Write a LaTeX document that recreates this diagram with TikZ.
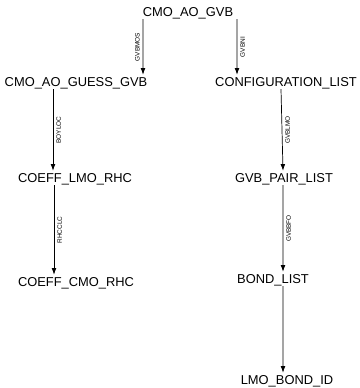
\documentclass[tikz,border=0pt]{standalone}
\usepackage{fontspec}
\setmainfont{Liberation Sans}
\usepackage{tikz}
\usetikzlibrary{arrows.meta, positioning, calc}

\begin{document}
\begin{tikzpicture}[
        unit/.style={inner xsep=0pt, inner ysep=0.07cm, text height=7.9pt, text depth=0pt, font=\fontsize{11}{12}\selectfont},
        call/.style={semithick, -{Latex[length=2mm, width=1.4mm]}},
        tag/.style={font=\fontsize{5.5}{6}\selectfont, rotate=90, inner sep=2.5pt}
    ]
        \useasboundingbox (0,0) rectangle (10.77,-11.64);

        % Routine names
        \node[unit] (gvb) at (5.64,-0.36) {CMO\_AO\_GVB};
        \node[unit] (guess) at (2.28,-2.46) {CMO\_AO\_GUESS\_GVB};
        \node[unit] (config) at (8.58,-2.46) {CONFIGURATION\_LIST};
        \node[unit] (lmorhc) at (2.25,-5.34) {COEFF\_LMO\_RHC};
        \node[unit] (cmorhc) at (2.28,-8.46) {COEFF\_CMO\_RHC};
        \node[unit] (pair) at (8.52,-5.34) {GVB\_PAIR\_LIST};
        \node[unit] (bond) at (8.19,-8.37) {BOND\_LIST};
        \node[unit] (bondid) at (8.61,-11.40) {LMO\_BOND\_ID};

        % Calls
        \draw[call] ([xshift=-1.35cm]gvb.south) -- ([xshift=2.01cm]guess.north)
            node[tag, midway, anchor=south] {GVBMOS};
        \draw[call] ([xshift=1.47cm]gvb.south) -- ([xshift=-1.47cm]config.north)
            node[tag, midway, anchor=north] {GVBNI};
        \draw[call] ([xshift=-0.69cm]guess.south) -- ([xshift=-0.66cm]lmorhc.north)
            node[tag, midway, anchor=north] {BOYLOC};
        \draw[call] ([xshift=-0.63cm]lmorhc.south) -- ([xshift=-0.66cm]cmorhc.north)
            node[tag, midway, anchor=north] {RHCCLC};
        \draw[call] ([xshift=-0.15cm]config.south) -- ([xshift=-0.03cm]pair.north)
            node[tag, midway, anchor=north] {GVBLMO};
        \draw[call] ([xshift=-0.03cm]pair.south) -- ([xshift=0.30cm]bond.north)
            node[tag, midway, anchor=north] {GVBBFO};
        \draw[call] ([xshift=0.30cm]bond.south) -- ([xshift=-0.12cm]bondid.north);
    \end{tikzpicture}
\end{document}
